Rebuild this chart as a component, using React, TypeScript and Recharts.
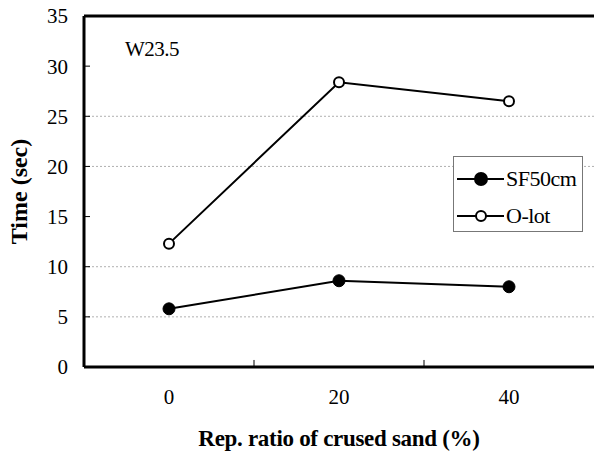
import { LineChart, Line, XAxis, YAxis, Legend, ReferenceLine } from 'recharts';

// Replacement ratio of crushed sand (%)
const ratios = [0, 20, 40];
const sf50cm = [5.8, 8.6, 8.0];
const oLot = [12.3, 28.4, 26.5];
const yTicks = [0, 5, 10, 15, 20, 25, 30, 35];
const xTicks = [0, 20, 40];
const gridValues = [5, 10, 20, 25]; // the dotted lines visible in the figure
const bandEdges = [10, 30]; // small tick marks between categories

const FONT = 'Liberation Serif, DejaVu Serif, serif';

const chartData = ratios.map((r, i) => ({ ratio: r, sf: sf50cm[i], olot: oLot[i] }));

function LegendBox() {
  const row = (filled: boolean, label: string, top: number) => (
    <div style={{ position: 'absolute', left: 0, top, height: 26, width: 128 }}>
      <svg width={52} height={26} style={{ position: 'absolute', left: 2, top: 0 }}>
        <line x1={1} y1={13} x2={48} y2={13} stroke="#000" strokeWidth={2} />
        <circle
          cx={25}
          cy={13}
          r={filled ? 6 : 5}
          fill={filled ? '#000' : '#fff'}
          stroke="#000"
          strokeWidth={2}
        />
      </svg>
      <span
        style={{
          position: 'absolute',
          left: 52,
          top: 0,
          lineHeight: '26px',
          fontSize: 22,
          fontFamily: FONT,
          color: '#000',
          letterSpacing: -0.5,
        }}
      >
        {label}
      </span>
    </div>
  );
  return (
    <div style={{ position: 'relative', width: 128, height: 74 }}>
      {row(true, 'SF50cm', 9)}
      {row(false, 'O-lot', 46)}
    </div>
  );
}

export default function App() {
  return (
    <div style={{ position: 'absolute', left: 0, top: 0, background: '#fff' }}>
      <LineChart
        width={594}
        height={457}
        data={chartData}
        margin={{ top: 16, right: 0, left: 0, bottom: 0 }}
        style={{ fontFamily: FONT }}
      >
        {gridValues.map((v) => (
          <ReferenceLine key={v} y={v} stroke="#b0b0b0" strokeDasharray="2 2" />
        ))}
        <XAxis
          dataKey="ratio"
          type="number"
          domain={[-10, 50]}
          ticks={xTicks}
          height={90}
          tickLine={false}
          tickSize={0}
          tickMargin={22}
          axisLine={{ stroke: '#000', strokeWidth: 3 }}
          tick={{ fill: '#000', fontSize: 21, fontFamily: FONT }}
          label={{
            value: 'Rep. ratio of crused sand (%)',
            position: 'insideBottom',
            offset: 11,
            style: { fill: '#000', fontSize: 23, fontWeight: 'bold', fontFamily: FONT, letterSpacing: -0.3 },
          }}
        />
        <YAxis
          domain={[0, 35]}
          ticks={yTicks}
          width={84}
          tickSize={-6}
          tickMargin={22}
          tickLine={{ stroke: '#000', strokeWidth: 1 }}
          axisLine={{ stroke: '#000', strokeWidth: 3 }}
          tick={{ fill: '#000', fontSize: 21, fontFamily: FONT }}
          label={{
            value: 'Time (sec)',
            angle: -90,
            position: 'insideLeft',
            offset: 18,
            style: { textAnchor: 'middle', fill: '#000', fontSize: 24, fontWeight: 'bold', fontFamily: FONT },
          }}
        />
        {/* top frame */}
        <ReferenceLine y={35} stroke="#000" strokeWidth={3} />
        {bandEdges.map((x) => (
          <ReferenceLine
            key={x}
            segment={[
              { x, y: 0 },
              { x, y: 0.7 },
            ]}
            stroke="#000"
            strokeWidth={1}
          />
        ))}
        <ReferenceLine
          y={31.8}
          stroke="none"
          label={{
            value: 'W23.5',
            position: 'insideLeft',
            offset: 41,
            style: { fill: '#000', fontSize: 21, fontFamily: FONT, letterSpacing: -0.5 },
          }}
        />
        <Legend
          layout="horizontal"
          verticalAlign="middle"
          align="center"
          content={() => <LegendBox />}
          wrapperStyle={{
            left: 453,
            top: 156,
            width: 128,
            height: 74,
            border: '1px solid #777',
            background: '#fff',
          }}
        />
        <Line
          type="linear"
          dataKey="sf"
          name="SF50cm"
          stroke="#000"
          strokeWidth={2}
          dot={{ r: 6, fill: '#000', stroke: '#000', strokeWidth: 1 }}
          isAnimationActive={false}
        />
        <Line
          type="linear"
          dataKey="olot"
          name="O-lot"
          stroke="#000"
          strokeWidth={2}
          dot={{ r: 5, fill: '#fff', stroke: '#000', strokeWidth: 2 }}
          isAnimationActive={false}
        />
      </LineChart>
    </div>
  );
}
